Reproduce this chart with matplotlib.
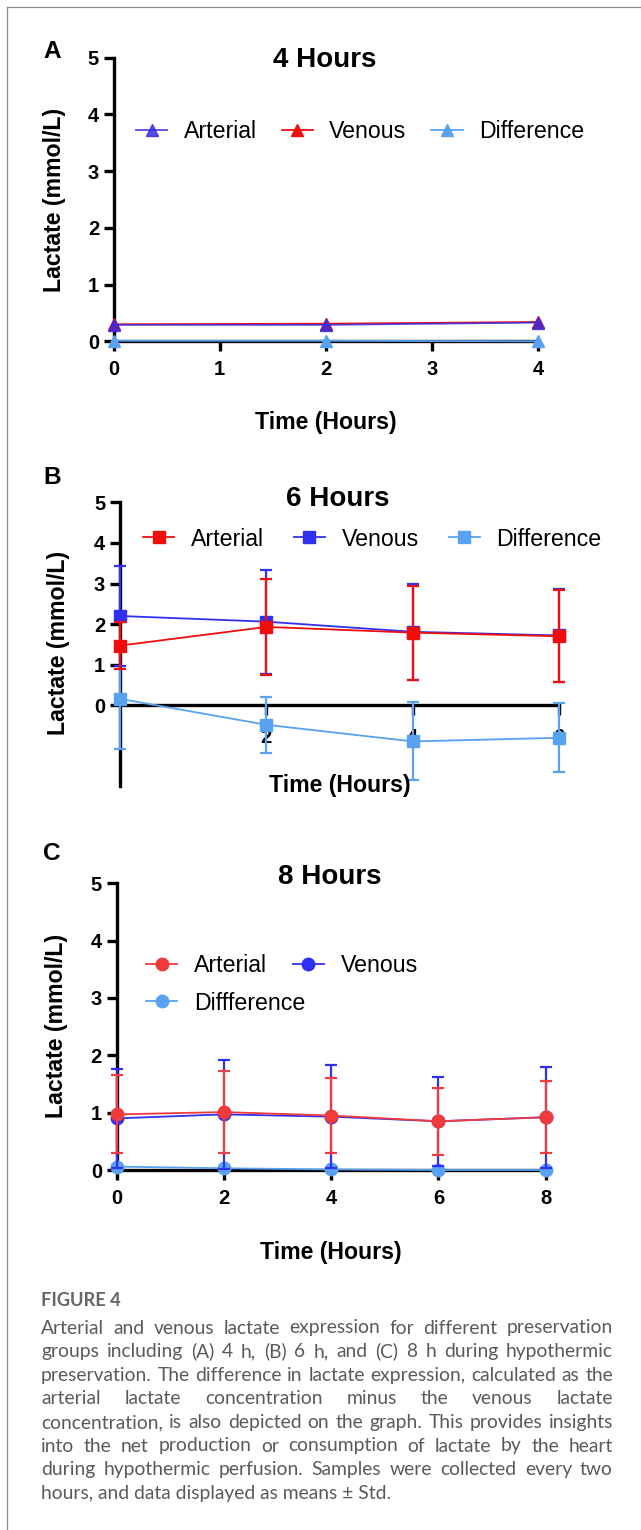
import matplotlib
matplotlib.use('Agg')
import matplotlib.pyplot as plt
from matplotlib.lines import Line2D

plt.rcParams['font.family'] = ['Liberation Sans', 'DejaVu Sans']

# ---------------- data ----------------
# Panel A: 4 hours
a_time = [0, 2, 4]
a_arterial = [0.29, 0.29, 0.33]
a_venous = [0.30, 0.31, 0.34]
a_diff = [0.01, 0.01, 0.00]
a_xticks = [0, 1, 2, 3, 4]
a_labels = ['Arterial', 'Venous', 'Difference']

# Panel B: 6 hours
b_time = [0, 2, 4, 6]
b_arterial = [1.47, 1.93, 1.79, 1.70]
b_arterial_sd = [0.57, 1.18, 1.16, 1.13]
b_venous = [2.20, 2.06, 1.81, 1.72]
b_venous_sd = [1.24, 1.28, 1.19, 1.14]
b_diff = [0.16, -0.48, -0.89, -0.80]
b_diff_sd = [1.23, 0.69, 0.96, 0.85]
b_xticks = [2, 4, 6]
b_labels = ['Arterial', 'Venous', 'Difference']

# Panel C: 8 hours
c_time = [0, 2, 4, 6, 8]
c_arterial = [0.97, 1.01, 0.95, 0.85, 0.92]
c_arterial_sd = [0.68, 0.71, 0.66, 0.58, 0.63]
c_venous = [0.90, 0.97, 0.93, 0.85, 0.92]
c_venous_sd = [0.87, 0.95, 0.90, 0.78, 0.88]
c_diff = [0.06, 0.03, 0.01, 0.00, 0.00]
c_diff_sd = [0.03, 0.02, 0.02, 0.02, 0.02]
c_xticks = [0, 2, 4, 6, 8]
c_labels = ['Arterial', 'Venous', 'Diffference']

y_ticks = [0, 1, 2, 3, 4, 5]

caption_title = "FIGURE 4"
caption_lines = [
    "Arterial and venous lactate expression for different preservation",
    "groups including (A) 4 h, (B) 6 h, and (C) 8 h during hypothermic",
    "preservation. The difference in lactate expression, calculated as the",
    "arterial lactate concentration minus the venous lactate",
    "concentration, is also depicted on the graph. This provides insights",
    "into the net production or consumption of lactate by the heart",
    "during hypothermic perfusion. Samples were collected every two",
    "hours, and data displayed as means \u00b1 Std.",
]

# ---------------- style ----------------
W, H = 641, 1530
RED = '#f20d0d'
BLUE = '#3030f0'
LBLUE = '#58a2f0'
A_BLUE = '#3b2ae0'
C_RED = '#ef3b3b'
TICK_FS = 14.5
LEG_FS = 16.7
LAB_FS = 16.7
TITLE_FS = 20
LETTER_FS = 17.6

fig = plt.figure(figsize=(W / 100, H / 100), dpi=100)


def px_axes(x0, x1, ytop, ybot):
    return fig.add_axes([x0 / W, 1 - ybot / H, (x1 - x0) / W, (ybot - ytop) / H])


def ftext(x, y, s, **kw):
    return fig.text(x / W, 1 - y / H, s, **kw)


def style(ax):
    for s in ['top', 'right']:
        ax.spines[s].set_visible(False)
    for s in ['left', 'bottom']:
        ax.spines[s].set_linewidth(2.4)
        ax.spines[s].set_zorder(2.5)
    ax.tick_params(width=2.4, length=7.5, labelsize=TICK_FS)
    ax.tick_params(axis='x', pad=6)
    ax.tick_params(axis='y', pad=3)
    for lab in ax.get_xticklabels() + ax.get_yticklabels():
        lab.set_fontweight('bold')
    ax.patch.set_alpha(0)


def legend(handles, labels, x, y, ncol, colsp):
    leg = fig.legend(handles, labels, loc='center left', bbox_to_anchor=(x / W, 1 - y / H),
                     ncol=ncol, frameon=False, fontsize=LEG_FS, borderpad=0, borderaxespad=0,
                     handlelength=1.34, handletextpad=0.72, columnspacing=colsp)
    return leg


def panel_text(letter, lx, ly, title, tx, ty, xl_x, xl_y, yl_x, yl_y):
    ftext(lx, ly, letter, fontsize=LETTER_FS, fontweight='bold', ha='center', va='center')
    ftext(tx, ty, title, fontsize=TITLE_FS, fontweight='bold', ha='center', va='center')
    ftext(xl_x, xl_y, 'Time (Hours)', fontsize=LAB_FS, fontweight='bold', ha='center', va='center')
    ftext(yl_x, yl_y, 'Lactate (mmol/L)', fontsize=LAB_FS, fontweight='bold', ha='center',
          va='center', rotation=90)


# ---------------- Panel A ----------------
axA = px_axes(113.7, 538, 57.7, 341.3)
axA.set_xlim(0, 4)
axA.set_ylim(0, 5)
axA.set_xticks(a_xticks)
axA.set_yticks(y_ticks)
lv, = axA.plot(a_time, a_venous, color=RED, marker='^', ms=9, lw=1.3, clip_on=False, zorder=3)
la, = axA.plot(a_time, a_arterial, color=A_BLUE, marker='^', ms=9, lw=1.3, clip_on=False,
               zorder=4, alpha=0.85)
ld, = axA.plot(a_time, a_diff, color=LBLUE, marker='^', ms=9, lw=1.3, clip_on=False, zorder=5)
style(axA)
legend([la, lv, ld], a_labels, 136, 132, 3, 1.07)
panel_text('A', 52, 51, '4 Hours', 325, 60, 326, 422, 55, 200)

# ---------------- Panel B ----------------
axB = px_axes(119.8, 559.3, 502.3, 786.5)
axB.set_xlim(0, 6)
axB.set_ylim(-2, 5)
axB.spines['bottom'].set_position(('data', 0))
axB.set_xticks(b_xticks)
axB.set_yticks(y_ticks)
eb_kw = dict(marker='s', ms=8.5, lw=1.3, elinewidth=1.6, capsize=4.2, capthick=1.6,
             clip_on=False)
hd = axB.errorbar(b_time, b_diff, yerr=b_diff_sd, color=LBLUE, zorder=3, **eb_kw)
hv = axB.errorbar(b_time, b_venous, yerr=b_venous_sd, color=BLUE, zorder=4, **eb_kw)
hb = axB.errorbar(b_time, b_arterial, yerr=b_arterial_sd, color=RED, zorder=5, **eb_kw)
style(axB)
axB.tick_params(axis='x', pad=9)
legend([hb[0], hv[0], hd[0]], b_labels, 143, 539, 3, 1.29)
panel_text('B', 52, 477, '6 Hours', 338, 499, 340, 786, 59, 643)

# ---------------- Panel C ----------------
axC = px_axes(116.5, 545.8, 883.3, 1170)
axC.set_xlim(0, 8)
axC.set_ylim(0, 5)
axC.set_xticks(c_xticks)
axC.set_yticks(y_ticks)
eb_kw = dict(marker='o', ms=9, lw=1.3, elinewidth=1.6, capsize=4.2, capthick=1.6,
             clip_on=False)
cd = axC.errorbar(c_time, c_diff, yerr=c_diff_sd, color=LBLUE, zorder=3, **eb_kw)
cv = axC.errorbar(c_time, c_venous, yerr=c_venous_sd, color=BLUE, zorder=4, **eb_kw)
ca = axC.errorbar(c_time, c_arterial, yerr=c_arterial_sd, color=C_RED, zorder=5, **eb_kw)
style(axC)
legend([ca[0], cv[0]], [c_labels[0], c_labels[1]], 146, 966, 2, 1.12)
legend([cd[0]], [c_labels[2]], 146, 1003, 1, 1.12)
panel_text('C', 52, 853, '8 Hours', 330, 877, 331, 1253, 56, 1026)

# ---------------- frame ----------------
fig.add_artist(Line2D([6.5 / W, 6.5 / W], [0, 1 - 6.5 / H], color='#8c8c8c', lw=0.9,
                      transform=fig.transFigure))
fig.add_artist(Line2D([6.5 / W, 1], [1 - 6.5 / H, 1 - 6.5 / H], color='#8c8c8c', lw=0.9,
                      transform=fig.transFigure))

# ---------------- caption ----------------
CAP_FAMILY = ['Lato', 'DejaVu Sans']
CAP_COLOR = '#5a5a5a'
X_L, X_R = 41, 613
fig.canvas.draw()
renderer = fig.canvas.get_renderer()


def measure(s, fs):
    t = fig.text(0, 0, s, fontsize=fs, family=CAP_FAMILY)
    w = t.get_window_extent(renderer).width
    t.remove()
    return w


base = 12.0
natural = max(measure(caption_lines[i], base) for i in (2, 4))
cap_fs = base * 566.0 / natural

ftext(X_L, 1300, caption_title, fontsize=cap_fs * 0.95, family=CAP_FAMILY, color='#666666',
      fontweight='bold', ha='left', va='center')
y0, dy = 1328, 23.6
for i, line in enumerate(caption_lines):
    y = y0 + i * dy
    if i == len(caption_lines) - 1:
        ftext(X_L, y, line, fontsize=cap_fs, family=CAP_FAMILY, color=CAP_COLOR,
              ha='left', va='center')
        continue
    words = line.split()
    widths = [measure(w, cap_fs) for w in words]
    gap = (X_R - X_L - sum(widths)) / (len(words) - 1)
    x = X_L
    for w, wd in zip(words, widths):
        ftext(x, y, w, fontsize=cap_fs, family=CAP_FAMILY, color=CAP_COLOR,
              ha='left', va='center')
        x += wd + gap

fig.savefig('out.png', dpi=100)
